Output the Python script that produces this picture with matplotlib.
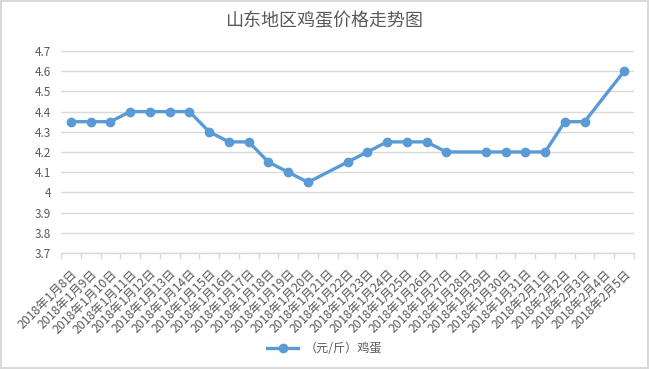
import matplotlib
matplotlib.use('Agg')
import matplotlib.pyplot as plt
import numpy as np

plt.rcParams['font.family'] = ['Noto Sans CJK SC', 'DejaVu Sans']

# dates on the x axis (29 days), None = no price reported that day
dates = ["2018年1月%d日" % d for d in range(8, 32)] + ["2018年2月%d日" % d for d in range(1, 6)]
prices = [4.35, 4.35, 4.35, 4.4, 4.4, 4.4, 4.4, 4.3, 4.25, 4.25, 4.15, 4.1, 4.05, None,
          4.15, 4.2, 4.25, 4.25, 4.25, 4.2, None, 4.2, 4.2, 4.2, 4.2, 4.35, 4.35, None, 4.6]
series_name = "（元/斤）鸡蛋"
title = "山东地区鸡蛋价格走势图"

blue = '#5B9BD5'
grid = '#D9D9D9'
text = '#595959'

fig = plt.figure(figsize=(6.49, 3.69), dpi=100)
fig.patch.set_edgecolor('#D9D9D9')
fig.patch.set_linewidth(1.5)
ax = fig.add_axes([61 / 649, 1 - 253 / 369, (634 - 61) / 649, (253 - 51) / 369])

# Excel connects across gaps, so plot only the days that have a value
xs = [i for i, v in enumerate(prices) if v is not None]
ys = [v for v in prices if v is not None]
ax.plot(xs, ys, color=blue, lw=2.4, marker='o', ms=6, label=series_name, zorder=3)

ax.set_xlim(-0.5, len(dates) - 0.5)
ax.set_ylim(3.7, 4.7)
ax.set_yticks(np.arange(3.7, 4.71, 0.1))
ax.set_yticklabels(['3.7', '3.8', '3.9', '4', '4.1', '4.2', '4.3', '4.4', '4.5', '4.6', '4.7'])
ax.yaxis.grid(True, color=grid, lw=1)
ax.set_axisbelow(True)

ax.set_xticks(range(len(dates)))
ax.set_xticklabels(dates, rotation=45, ha='right', rotation_mode='anchor')
ax.set_xticks(np.arange(-0.5, len(dates)), minor=True)
ax.tick_params(axis='x', which='major', length=0, labelsize=8.8, colors=text, pad=10)
ax.tick_params(axis='x', which='minor', length=4, color=grid, width=1)
ax.tick_params(axis='y', length=0, labelsize=8.5, colors=text, pad=7)

for s in ['top', 'right', 'left']:
    ax.spines[s].set_visible(False)
ax.spines['bottom'].set_color(grid)
ax.spines['bottom'].set_linewidth(1)

fig.text(0.5, 1 - 21 / 369, title, ha='center', va='center', fontsize=13, color=text)

fig.legend(loc='center', bbox_to_anchor=(0.5, 1 - 349 / 369), frameon=False,
           fontsize=8.7, labelcolor=text, handlelength=2.6, handletextpad=0.5)

fig.savefig('out.png', dpi=100)
